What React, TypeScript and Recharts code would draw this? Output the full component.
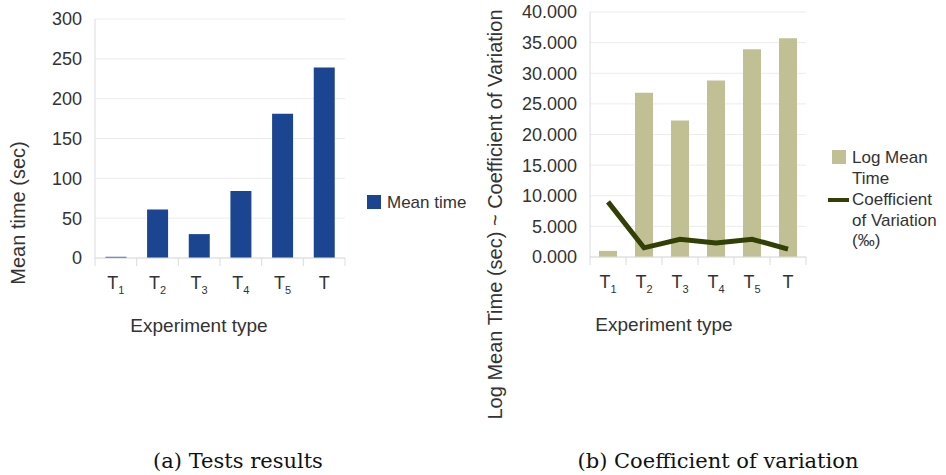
import React from 'react';
import { ComposedChart, Bar, Line, XAxis, YAxis, CartesianGrid, Legend } from 'recharts';

const categories = ['T1', 'T2', 'T3', 'T4', 'T5', 'T'];
const meanTime = [1.5, 61, 30, 84, 181, 239];
const logMeanTime = [1000, 26800, 22300, 28800, 33900, 35700];
const coeffVariation = [9000, 1500, 2900, 2300, 2900, 1300];
const meanTicks = [0, 50, 100, 150, 200, 250, 300];
const cvTicks = [0, 5000, 10000, 15000, 20000, 25000, 30000, 35000, 40000];

const leftData = categories.map((c, i) => ({ name: c, mean: meanTime[i] }));
const rightData = categories.map((c, i) => ({ name: c, logMean: logMeanTime[i], cv: coeffVariation[i] }));

const FONT = '"Liberation Sans", Arial, sans-serif';
const INK = '#333333';
const GRID = '#ececec';
const EDGE = '#dcdcdc';

// category label like T1 -> T with subscript 1, plus boundary tick marks
function CategoryTick(props: any) {
  const { x, y, payload, index } = props;
  const label = String(payload.value);
  const half = payload.offset || 0;
  const last = index === categories.length - 1;
  return (
    <g>
      <line x1={x - half} x2={x - half} y1={y} y2={y + 8} stroke={EDGE} />
      {last && <line x1={x + half} x2={x + half} y1={y} y2={y + 8} stroke={EDGE} />}
      <text x={x} y={y + 31} textAnchor="middle" fontFamily={FONT} fontSize={18} fill={INK}>
        {label[0]}
        {label.length > 1 && (
          <tspan fontSize={11} dy={5}>
            {label.slice(1)}
          </tspan>
        )}
      </text>
    </g>
  );
}

function VerticalTitle({ viewBox, text, left, shift }: any) {
  const cx = viewBox.x + left;
  const cy = viewBox.y + viewBox.height / 2 + shift;
  return (
    <text
      x={cx}
      y={cy}
      transform={`rotate(-90 ${cx} ${cy})`}
      textAnchor="middle"
      dominantBaseline="central"
      fontFamily={FONT}
      fontSize={20}
      fill={INK}
    >
      {text}
    </text>
  );
}

function BottomTitle({ viewBox, text, shift }: any) {
  const cx = viewBox.x + viewBox.width / 2 + shift;
  return (
    <text x={cx} y={viewBox.y + 74} textAnchor="middle" fontFamily={FONT} fontSize={19} fill={INK}>
      {text}
    </text>
  );
}

function LegendBox({ payload }: any) {
  // bars first, then lines
  const items = [...(payload || [])].sort((a: any, b: any) => (a.type === 'line' ? 1 : 0) - (b.type === 'line' ? 1 : 0));
  return (
    <div style={{ fontFamily: FONT, fontSize: 17, color: INK, lineHeight: '20.5px' }}>
      {items.map((entry: any) => (
        <div key={entry.value} style={{ display: 'flex', alignItems: 'flex-start', marginBottom: 1 }}>
          <div style={{ width: 24, height: 20, position: 'relative', flex: 'none' }}>
            {entry.type === 'line' ? (
              <div style={{ position: 'absolute', left: 0, top: 8, width: 21, height: 4, background: entry.color }} />
            ) : (
              <div style={{ position: 'absolute', left: 4, top: 2, width: 14, height: 14, background: entry.color }} />
            )}
          </div>
          <div style={{ width: 92 }}>{entry.value}</div>
        </div>
      ))}
    </div>
  );
}

const tickStyle = { fontFamily: FONT, fontSize: 18, fill: INK };

export default function App() {
  return (
    <div style={{ position: 'absolute', left: 0, top: 0, width: 946, height: 475, background: '#fff' }}>
      <div style={{ position: 'absolute', left: 0, top: 0 }}>
        <ComposedChart width={480} height={440} data={leftData} margin={{ top: 19, right: 135, bottom: 95, left: 0 }} barCategoryGap="25%">
          <CartesianGrid vertical={false} stroke={GRID} />
          <XAxis
            dataKey="name"
            height={87}
            interval={0}
            tickSize={0}
            tickMargin={0}
            tickLine={false}
            axisLine={{ stroke: EDGE }}
            tick={<CategoryTick />}
            label={(p: any) => <BottomTitle viewBox={p.viewBox} text="Experiment type" shift={-21} />}
          />
          <YAxis
            width={95}
            domain={[0, 300]}
            ticks={meanTicks}
            interval={0}
            tickSize={0}
            tickMargin={13}
            tickLine={false}
            axisLine={{ stroke: EDGE }}
            tick={tickStyle}
            label={(p: any) => <VerticalTitle viewBox={p.viewBox} text="Mean time (sec)" left={18} shift={74.5} />}
          />
          <YAxis yAxisId="edge" orientation="right" width={0} tick={false} tickLine={false} axisLine={{ stroke: EDGE }} />
          <Legend
            layout="horizontal"
            align="center"
            verticalAlign="middle"
            content={<LegendBox />}
            wrapperStyle={{ left: 363, top: 193, width: 120 }}
          />
          <Bar dataKey="mean" name="Mean time" fill="#1c4591" isAnimationActive={false} />
        </ComposedChart>
      </div>

      <div style={{ position: 'absolute', left: 480, top: 0 }}>
        <ComposedChart width={466} height={440} data={rightData} margin={{ top: 12, right: 140, bottom: 95, left: 0 }} barCategoryGap="25%">
          <CartesianGrid vertical={false} stroke={GRID} />
          <XAxis
            dataKey="name"
            height={88}
            interval={0}
            tickSize={0}
            tickMargin={0}
            tickLine={false}
            axisLine={{ stroke: EDGE }}
            tick={<CategoryTick />}
            label={(p: any) => <BottomTitle viewBox={p.viewBox} text="Experiment type" shift={-34} />}
          />
          <YAxis
            width={110}
            domain={[0, 40000]}
            ticks={cvTicks}
            interval={0}
            tickSize={0}
            tickMargin={13}
            tickLine={false}
            axisLine={{ stroke: EDGE }}
            tick={tickStyle}
            tickFormatter={(v: number) => (v / 1000).toFixed(3)}
            label={(p: any) => (
              <VerticalTitle viewBox={p.viewBox} text="Log Mean Time (sec) ~ Coefficient of Variation" left={15} shift={80} />
            )}
          />
          <YAxis yAxisId="edge" orientation="right" width={0} tick={false} tickLine={false} axisLine={{ stroke: EDGE }} />
          <Legend
            layout="horizontal"
            align="center"
            verticalAlign="middle"
            content={<LegendBox />}
            wrapperStyle={{ left: 348, top: 148, width: 120 }}
          />
          <Bar dataKey="logMean" name="Log Mean Time" fill="#c1c094" isAnimationActive={false} />
          <Line
            dataKey="cv"
            name="Coefficient of Variation (‰)"
            type="linear"
            stroke="#334005"
            strokeWidth={5}
            dot={false}
            activeDot={false}
            legendType="line"
            isAnimationActive={false}
          />
        </ComposedChart>
      </div>

      <svg width={946} height={475} style={{ position: 'absolute', left: 0, top: 0, pointerEvents: 'none' }}>
        <text x={238} y={468} textAnchor="middle" fontFamily='"DejaVu Serif", serif' fontSize={21} fill="#111">
          (a) Tests results
        </text>
        <text x={718} y={468} textAnchor="middle" fontFamily='"DejaVu Serif", serif' fontSize={21} fill="#111">
          (b) Coefficient of variation
        </text>
      </svg>
    </div>
  );
}
